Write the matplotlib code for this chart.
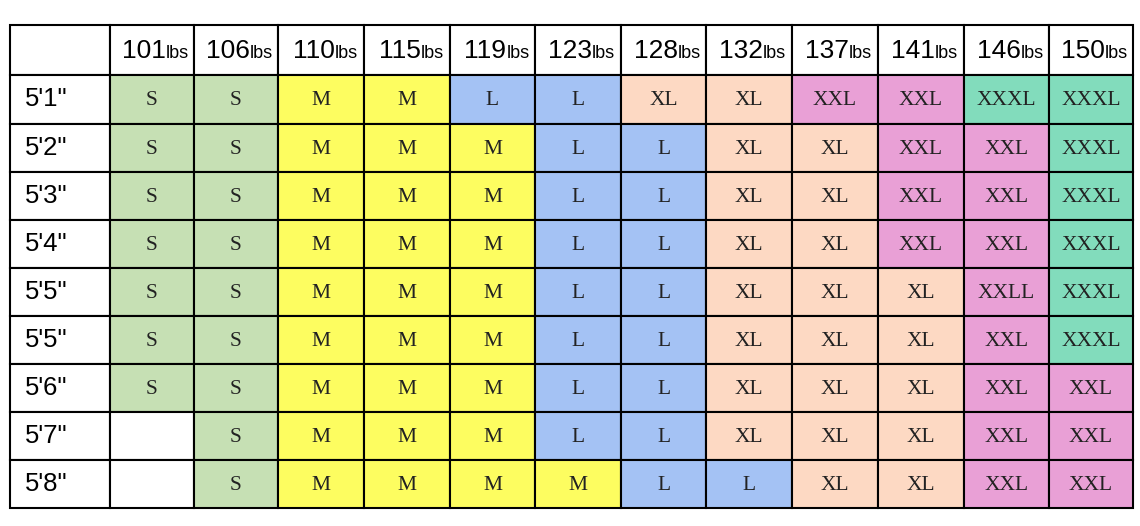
import matplotlib.pyplot as plt
from matplotlib.patches import Rectangle

weights = ['101', '106', '110', '115', '119', '123', '128', '132', '137', '141', '146', '150']
heights = ['5\'1"', '5\'2"', '5\'3"', '5\'4"', '5\'5"', '5\'5"', '5\'6"', '5\'7"', '5\'8"']
sizes = [
    ['S', 'S', 'M', 'M', 'L', 'L', 'XL', 'XL', 'XXL', 'XXL', 'XXXL', 'XXXL'],
    ['S', 'S', 'M', 'M', 'M', 'L', 'L', 'XL', 'XL', 'XXL', 'XXL', 'XXXL'],
    ['S', 'S', 'M', 'M', 'M', 'L', 'L', 'XL', 'XL', 'XXL', 'XXL', 'XXXL'],
    ['S', 'S', 'M', 'M', 'M', 'L', 'L', 'XL', 'XL', 'XXL', 'XXL', 'XXXL'],
    ['S', 'S', 'M', 'M', 'M', 'L', 'L', 'XL', 'XL', 'XL', 'XXLL', 'XXXL'],
    ['S', 'S', 'M', 'M', 'M', 'L', 'L', 'XL', 'XL', 'XL', 'XXL', 'XXXL'],
    ['S', 'S', 'M', 'M', 'M', 'L', 'L', 'XL', 'XL', 'XL', 'XXL', 'XXL'],
    ['', 'S', 'M', 'M', 'M', 'L', 'L', 'XL', 'XL', 'XL', 'XXL', 'XXL'],
    ['', 'S', 'M', 'M', 'M', 'M', 'L', 'L', 'XL', 'XL', 'XXL', 'XXL'],
]
colors = {'': 'white', 'S': '#c6e0b4', 'M': '#fdfd60', 'L': '#a4c2f4',
          'XL': '#fdd9c3', 'XXL': '#e9a0d6', 'XXLL': '#e9a0d6', 'XXXL': '#82dcbc'}

# layout in pixels
col_edges = [10, 110, 194, 278, 364, 450, 535, 621, 706, 792, 878, 964, 1049, 1133]
row_edges = [25, 75, 124, 172, 220, 268, 316, 364, 412, 460, 508]

fig = plt.figure(figsize=(11.4, 5.26), dpi=100)
ax = fig.add_axes([0, 0, 1, 1])
ax.set_xlim(0, 1140)
ax.set_ylim(526, 0)
ax.axis('off')

def cell(x0, x1, y0, y1, fc):
    ax.add_patch(Rectangle((x0, y0), x1 - x0, y1 - y0, facecolor=fc,
                           edgecolor='black', linewidth=1.5))

cell(col_edges[0], col_edges[1], row_edges[0], row_edges[1], 'white')
for j, w in enumerate(weights):
    x0, x1 = col_edges[j + 1], col_edges[j + 2]
    cell(x0, x1, row_edges[0], row_edges[1], 'white')
    cx = (x0 + x1) / 2
    cy = (row_edges[0] + row_edges[1]) / 2 + 1
    ax.text(cx + 14, cy, w, ha='right', va='center', fontsize=19,
            family='Liberation Sans')
    ax.text(cx + 14, cy + 2, 'lbs', ha='left', va='center', fontsize=13,
            family='Liberation Sans')

for i, h in enumerate(heights):
    y0, y1 = row_edges[i + 1], row_edges[i + 2]
    cy = (y0 + y1) / 2
    cell(col_edges[0], col_edges[1], y0, y1, 'white')
    ax.text(25, cy, h, ha='left', va='center', fontsize=18.5, family='Liberation Sans')
    for j, s in enumerate(sizes[i]):
        x0, x1 = col_edges[j + 1], col_edges[j + 2]
        cell(x0, x1, y0, y1, colors[s])
        ax.text((x0 + x1) / 2, cy + 1, s, ha='center', va='center', fontsize=15.5,
                family='Liberation Serif', color='#222222')

fig.savefig('out.png', dpi=100)
